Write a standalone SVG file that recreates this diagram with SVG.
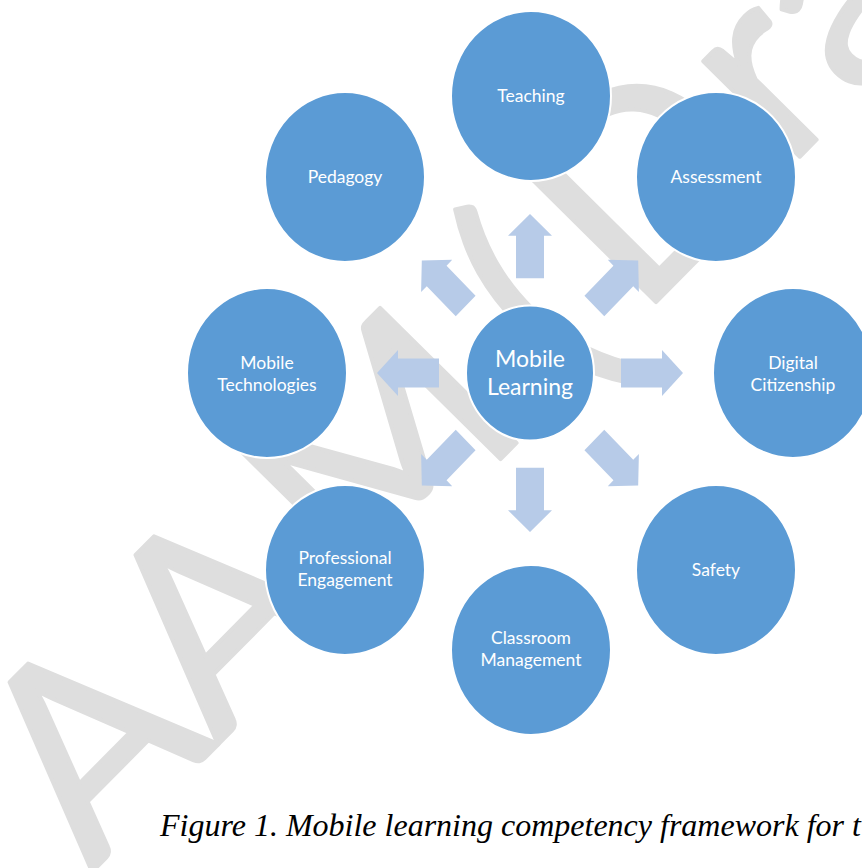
<svg xmlns="http://www.w3.org/2000/svg" width="862" height="868" viewBox="0 0 862 868">
  <style>
    .wm { font-family: Lato, "Liberation Sans", sans-serif; font-size: 268px; fill: #dedede; stroke: #dedede; stroke-width: 4; stroke-linejoin: round; }
    .node ellipse { fill: #5b9bd5; stroke: #ffffff; stroke-width: 2; }
    .node text { font-family: Lato, "Liberation Sans", sans-serif; font-size: 17.5px; fill: #ffffff; text-anchor: middle; }
    #hub text { font-size: 23px; }
    .arrow { fill: #b7cbe8; }
    .caption { font-family: "Liberation Serif", "Times New Roman", serif; font-style: italic; font-size: 32px; fill: #000000; }
  </style>
  <defs>
    <path id="arr" d="M91,-14 H132 V-22 L153,0 L132,22 V14 H91 Z"/>
  </defs>

  <rect width="862" height="868" fill="#ffffff"/>

  <!-- background watermark, glyphs placed along the diagonal baseline -->
  <text class="wm" transform="translate(88,876) rotate(-45.3)"><tspan x="5">A</tspan><tspan x="184">A</tspan><tspan x="385">M </tspan><tspan x="683">(</tspan><tspan x="783">D</tspan><tspan x="993">raft)</tspan></text>

  <!-- connectors: eight block arrows radiating from the hub -->
  <g id="connectors" class="arrow" transform="translate(530,373) scale(1,1.04)">
    <use href="#arr" transform="rotate(-90)"/>
    <use href="#arr" transform="rotate(-45)"/>
    <use href="#arr" transform="rotate(0)"/>
    <use href="#arr" transform="rotate(45)"/>
    <use href="#arr" transform="rotate(90)"/>
    <use href="#arr" transform="rotate(135)"/>
    <use href="#arr" transform="rotate(180)"/>
    <use href="#arr" transform="rotate(225)"/>
  </g>

  <g id="hub" class="node">
    <ellipse cx="530" cy="373" rx="64" ry="67.5"/>
    <text x="530" y="367">Mobile</text>
    <text x="530" y="395">Learning</text>
  </g>

  <g id="teaching" class="node">
    <ellipse cx="531" cy="96" rx="80" ry="85"/>
    <text x="531" y="102">Teaching</text>
  </g>

  <g id="assessment" class="node">
    <ellipse cx="716" cy="177" rx="80" ry="85"/>
    <text x="716" y="183">Assessment</text>
  </g>

  <g id="pedagogy" class="node">
    <ellipse cx="345" cy="177" rx="80" ry="85"/>
    <text x="345" y="183">Pedagogy</text>
  </g>

  <g id="mobile-technologies" class="node">
    <ellipse cx="267" cy="373" rx="80" ry="85"/>
    <text x="267" y="369">Mobile</text>
    <text x="267" y="391">Technologies</text>
  </g>

  <g id="digital-citizenship" class="node">
    <ellipse cx="793" cy="373" rx="80" ry="85"/>
    <text x="793" y="369">Digital</text>
    <text x="793" y="391">Citizenship</text>
  </g>

  <g id="professional-engagement" class="node">
    <ellipse cx="345" cy="570" rx="80" ry="85"/>
    <text x="345" y="564">Professional</text>
    <text x="345" y="586">Engagement</text>
  </g>

  <g id="safety" class="node">
    <ellipse cx="716" cy="570" rx="80" ry="85"/>
    <text x="716" y="576">Safety</text>
  </g>

  <g id="classroom-management" class="node">
    <ellipse cx="531" cy="650" rx="80" ry="85"/>
    <text x="531" y="644">Classroom</text>
    <text x="531" y="666">Management</text>
  </g>

  <text class="caption" x="160" y="836">Figure 1. Mobile learning competency framework for t</text>
</svg>
